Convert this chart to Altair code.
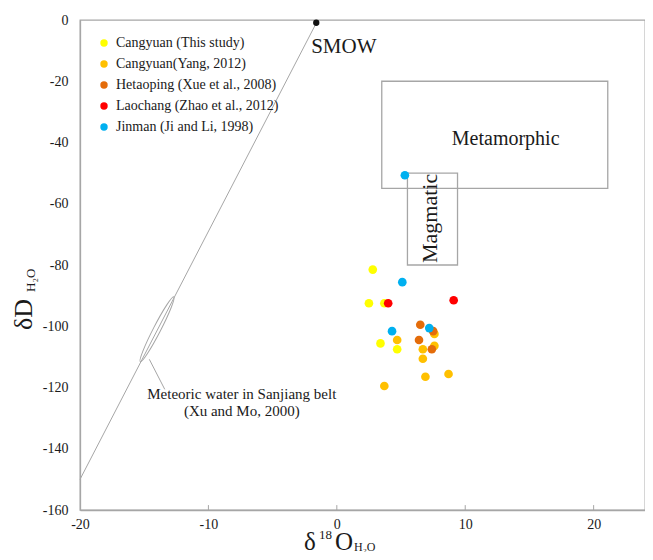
import altair as alt
import pandas as pd

# ---------------- data ----------------
groups = ["Cangyuan (This study)", "Cangyuan(Yang, 2012)", "Hetaoping (Xue et al., 2008)",
          "Laochang (Zhao et al., 2012)", "Jinman (Ji and Li, 1998)"]
colors = ["#FFFF00", "#FFC000", "#E46C0A", "#FF0000", "#00B0F0"]

cangyuan_x = [2.8, 2.5, 3.7, 3.4, 4.7]
cangyuan_y = [-81.5, -92.5, -92.5, -105.6, -107.5]
yang_x = [4.7, 7.6, 7.6, 6.7, 6.7, 6.9, 8.7, 3.7]
yang_y = [-104.5, -102.5, -106.4, -107.5, -110.6, -116.5, -115.6, -119.5]
hetaoping_x = [6.5, 7.5, 6.4, 7.4]
hetaoping_y = [-99.5, -101.6, -104.5, -107.5]
laochang_x = [4.0, 9.1]
laochang_y = [-92.5, -91.5]
jinman_x = [5.1, 4.3, 7.2, 5.3]
jinman_y = [-85.6, -101.6, -100.6, -50.7]

series_x = [cangyuan_x, yang_x, hetaoping_x, laochang_x, jinman_x]
series_y = [cangyuan_y, yang_y, hetaoping_y, laochang_y, jinman_y]

x_ticks = [-20, -10, 0, 10, 20]
y_ticks = [0, -20, -40, -60, -80, -100, -120, -140, -160]
inner_ticks = [-10, 0, 10, 20]

mwl_x = [-20, -1.6]
mwl_y = [-150, -1.0]
smow_x = [-1.6]
smow_y = [-0.9]

box_names = ["Metamorphic", "Magmatic"]
box_x1 = [3.5, 5.5]
box_x2 = [21.1, 9.4]
box_y1 = [-20, -50]
box_y2 = [-55, -80]

ellipse_x = [-14.0]
ellipse_y = [-101.0]
leader_x = [-14.6, -13.4]
leader_y = [-110.8, -120.6]

# ---------------- tables ----------------
rows = []
for gi, (g, xs, ys) in enumerate(zip(groups, series_x, series_y)):
    for xv, yv in zip(xs, ys):
        rows.append({"x": xv, "y": yv, "group": g, "gi": gi})
pts = pd.DataFrame(rows)

FONT = "Liberation Serif"
GRAY = "#a6a6a6"
INK = "#1a1a1a"

X = alt.X("x:Q", scale=alt.Scale(domain=[-20, 24], nice=False, zero=False),
          axis=alt.Axis(values=x_ticks, title=None, tickSize=0, labelPadding=7,
                        labelFont=FONT, labelFontSize=14, labelColor=INK, grid=False,
                        labelFlush=False, labelExpr="toString(datum.value)"))
Y = alt.Y("y:Q", scale=alt.Scale(domain=[-160, 0], nice=False, zero=False),
          axis=alt.Axis(values=y_ticks, title=None, tickSize=0, labelPadding=12,
                        labelFont=FONT, labelFontSize=14, labelColor=INK, grid=False,
                        labelExpr="toString(datum.value)"))

points = alt.Chart(pts).mark_circle(size=75, opacity=1).encode(
    x=X, y=Y,
    color=alt.Color("group:N", scale=alt.Scale(domain=groups, range=colors),
                    legend=alt.Legend(orient="none", legendX=17, legendY=16, title=None,
                                      labelFont=FONT, labelFontSize=14, labelColor=INK,
                                      labelLimit=0,
                                      symbolType="circle", symbolSize=55, symbolStrokeWidth=0,
                                      rowPadding=7, labelOffset=5, padding=0)),
    order=alt.Order("gi:Q"),
)

mwl = alt.Chart(pd.DataFrame({"x": mwl_x, "y": mwl_y})).mark_line(
    color=GRAY, strokeWidth=1).encode(x="x:Q", y="y:Q")
smow = alt.Chart(pd.DataFrame({"x": smow_x, "y": smow_y})).mark_circle(
    color="#111", size=40, opacity=1).encode(x="x:Q", y="y:Q")

boxes = alt.Chart(pd.DataFrame({"name": box_names, "x1": box_x1, "x2": box_x2,
                                "y1": box_y1, "y2": box_y2})).mark_rect(
    fillOpacity=0, stroke=GRAY, strokeWidth=1.3).encode(
    x="x1:Q", x2="x2:Q", y="y1:Q", y2="y2:Q")

ellipse_path = ("M -1 0 C -1 -0.055 -0.552 -0.1 0 -0.1 C 0.552 -0.1 1 -0.055 1 0 "
                "C 1 0.055 0.552 0.1 0 0.1 C -0.552 0.1 -1 0.055 -1 0 Z")
ellipse = alt.Chart(pd.DataFrame({"x": ellipse_x, "y": ellipse_y})).mark_point(
    shape=ellipse_path, size=5360, angle=297.3, filled=False, opacity=1,
    stroke=GRAY, strokeWidth=1).encode(x="x:Q", y="y:Q")

leader = alt.Chart(pd.DataFrame({"x": leader_x, "y": leader_y})).mark_line(
    color=GRAY, strokeWidth=1).encode(x="x:Q", y="y:Q")

ticks = alt.Chart(pd.DataFrame({"x": inner_ticks})).mark_rule(
    color=GRAY, strokeWidth=1).encode(x="x:Q", y=alt.datum(-160), y2=alt.datum(-158.4))

# annotation texts (data coordinates)
ann = pd.DataFrame({
    "t": ["SMOW", "Metamorphic", "Meteoric water in Sanjiang belt", "(Xu and Mo, 2000)"],
    "x": [-2.0, 13.15, -7.4, -7.4],
    "y": [-10.8, -40.8, -123.8, -129.3],
    "size": [21, 20, 15, 15],
    "align": ["left", "center", "center", "center"],
})
ann_layers = []
for _, r in ann.iterrows():
    ann_layers.append(
        alt.Chart(pd.DataFrame([r])).mark_text(
            font=FONT, fontSize=int(r["size"]), align=r["align"], baseline="alphabetic",
            color=INK).encode(x="x:Q", y="y:Q", text="t:N"))

magm = alt.Chart(pd.DataFrame({"t": ["Magmatic"], "x": [7.8], "y": [-64.8]})).mark_text(
    font=FONT, fontSize=22, angle=270, align="center", baseline="alphabetic",
    color=INK).encode(x="x:Q", y="y:Q", text="t:N")

# axis titles built from pieces (pixel placement)
def piece(txt, px, py, size, angle=0):
    return alt.Chart(pd.DataFrame({"t": [txt]})).mark_text(
        font=FONT, fontSize=size, align="left", baseline="alphabetic", angle=angle,
        color=INK).encode(x=alt.value(px), y=alt.value(py), text="t:N")

xt = [piece("δ", 224, 530, 25), piece("18", 239, 519, 13),
      piece("O", 255, 530, 25), piece("H₂O", 274, 531, 12)]
yt = [piece("δD", -48, 310, 26, 270), piece("H₂O", -45, 272, 13, 270)]

chart = alt.layer(
    boxes, mwl, ellipse, leader, ticks, smow, points, magm, *ann_layers, *xt, *yt
).properties(
    width=565, height=490,
    autosize=alt.AutoSizeParams(type="none"),
    padding={"left": 72, "top": 12, "right": 0, "bottom": 42},
).configure_view(
    stroke=GRAY, strokeWidth=1.3
).configure_axis(
    domainColor=GRAY, domainWidth=1.3, labelFont=FONT, labelColor=INK
)

chart.save("out.html", embed_options={"renderer": "svg", "actions": False})
